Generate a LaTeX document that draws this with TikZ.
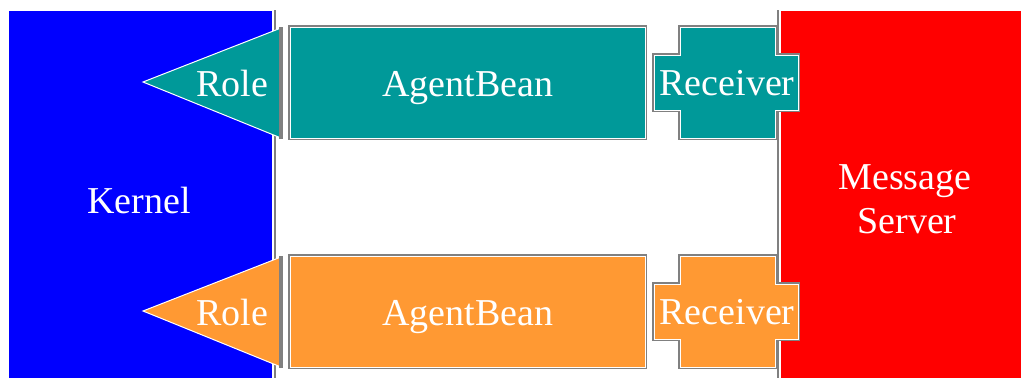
\documentclass[tikz,border=0pt]{standalone}
\usepackage{fontspec}
\setmainfont{Liberation Serif}
\definecolor{kernelblue}{RGB}{0,0,255}
\definecolor{serverred}{RGB}{255,0,0}
\definecolor{tealfill}{RGB}{0,153,153}
\definecolor{orangefill}{RGB}{255,153,51}
\definecolor{edgegray}{RGB}{128,128,128}
\begin{document}
\begin{tikzpicture}[x=1pt,y=-1pt,
  txt/.style={text=white, font=\fontsize{38}{43}\selectfont, inner sep=0pt, anchor=base},
  rim/.style={draw=edgegray, line width=4pt, line join=miter},
  face/.style={fill=#1, draw=white, line width=1pt, line join=miter},
  divider/.style={draw=edgegray, line width=2.5pt}]
\useasboundingbox (0,0) rectangle (1021,378);

% Kernel and message server blocks
\fill[kernelblue] (9,11) rectangle (272,378);
\fill[serverred] (781,11) rectangle (1021,378);
\draw[white, line width=0.6pt] (272.5,11) -- (272.5,378);
\draw[white, line width=0.6pt] (780.5,11) -- (780.5,378);
\draw[divider] (275,10) -- (275,378);
\draw[divider] (778,10) -- (778,378);

\node[txt] (kernel) at (139,213) {Kernel};
\node[txt] (msg) at (905,189) {Message};
\node[txt] (srv) at (907,233) {Server};

% One agent row: role arrow, agent bean, receiver
\foreach \i/\c/\dy in {1/tealfill/0, 2/orangefill/229} {
  \begin{scope}[shift={(0,\dy)}]
    % role arrow
    \draw[face=\c] (143,82) -- (281,28) -- (281,138) -- cycle;
    \draw[rim] (281,27) -- (281,139);
    % agent bean
    \draw[rim] (290,27) rectangle (645,138);
    \draw[face=\c] (290,27) rectangle (645,138);
    % receiver
    \draw[rim] (680,27) -- (775,27) -- (775,55) -- (798,55)
      -- (798,110) -- (775,110) -- (775,138) -- (680,138)
      -- (680,110) -- (654,110) -- (654,55) -- (680,55) -- cycle;
    \draw[face=\c] (680,27) -- (775,27) -- (775,55) -- (798,55)
      -- (798,110) -- (775,110) -- (775,138) -- (680,138)
      -- (680,110) -- (654,110) -- (654,55) -- (680,55) -- cycle;
    \node[txt] (role\i) at (232,96) {Role};
    \node[txt] (bean\i) at (468,96) {AgentBean};
    \node[txt] (recv\i) at (727,95) {Receiver};
  \end{scope}
}
\end{tikzpicture}
\end{document}
